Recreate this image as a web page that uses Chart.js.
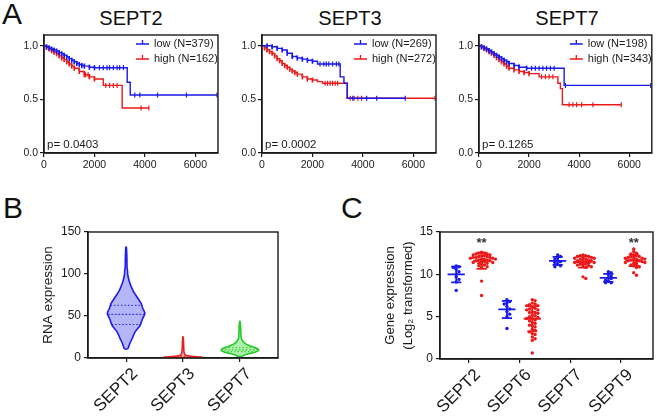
<!DOCTYPE html>
<html>
<head>
<meta charset="utf-8">
<script src="https://cdn.jsdelivr.net/npm/chart.js@4.4.1/dist/chart.umd.min.js"></script>
<style>
  body { margin: 0; background: #fff; width: 657px; height: 416px; position: relative; overflow: hidden;
         font-family: "Liberation Sans", Arial, sans-serif; color: #111; }
  canvas { position: absolute; left: 0; top: 0; }
  .lbl { position: absolute; white-space: nowrap; line-height: 1; }
  .panel { font-size: 30px; line-height: 30px; }
  .ttl { font-size: 20px; line-height: 20px; transform: translateX(-50%); }
</style>
</head>
<body>
<div class="lbl panel" style="left:2px;top:-1px">A</div>
<div class="lbl panel" style="left:3px;top:193px">B</div>
<div class="lbl panel" style="left:341px;top:193px">C</div>
<div class="lbl ttl" style="left:131px;top:8px">SEPT2</div>
<div class="lbl ttl" style="left:350px;top:8px">SEPT3</div>
<div class="lbl ttl" style="left:567px;top:8px">SEPT7</div>
<canvas id="km1" width="657" height="416"></canvas>
<canvas id="km2" width="657" height="416"></canvas>
<canvas id="km3" width="657" height="416"></canvas>
<canvas id="violin" width="657" height="416"></canvas>
<canvas id="expr" width="657" height="416"></canvas>
<script>
// ---- panel A: survival curves (days vs survival probability)
const kmXTicks = [0, 2000, 4000, 6000];
const kmYTicks = [0, 0.5, 1.0];

const sept2LowT  = [0, 100, 200, 300, 400, 500, 600, 700, 800, 900, 1000, 1100, 1200, 1300, 1400, 1500, 1600, 1800, 2000, 3300, 3420, 6860];
const sept2LowS  = [1.0, 0.99, 0.98, 0.97, 0.96, 0.95, 0.935, 0.925, 0.91, 0.895, 0.88, 0.865, 0.85, 0.835, 0.825, 0.815, 0.81, 0.80, 0.795, 0.66, 0.54, 0.54];
const sept2HighT = [0, 100, 200, 300, 400, 500, 600, 700, 800, 900, 1000, 1100, 1200, 1400, 1600, 1800, 2000, 2350, 3100, 4160];
const sept2HighS = [1.0, 0.985, 0.97, 0.955, 0.94, 0.925, 0.905, 0.885, 0.87, 0.85, 0.83, 0.81, 0.79, 0.76, 0.73, 0.71, 0.69, 0.63, 0.42, 0.42];
const sept2LowCensT  = [2200, 2350, 2500, 2600, 2750, 2900, 3000, 3150, 3600, 3800, 4500, 5650, 6860];
const sept2LowCensS  = [0.795, 0.795, 0.795, 0.795, 0.795, 0.795, 0.795, 0.795, 0.54, 0.54, 0.54, 0.54, 0.54];
const sept2HighCensT = [1650, 1750, 2450, 2600, 2750, 2900, 3850, 4160];
const sept2HighCensS = [0.73, 0.73, 0.63, 0.63, 0.63, 0.63, 0.42, 0.42];

const sept3LowT  = [0, 200, 400, 600, 800, 1000, 1200, 1400, 1600, 1800, 2000, 2200, 3100, 3250, 3380, 5680];
const sept3LowS  = [1.0, 1.0, 0.99, 0.975, 0.96, 0.93, 0.90, 0.885, 0.875, 0.865, 0.855, 0.83, 0.71, 0.65, 0.51, 0.51];
const sept3HighT = [0, 100, 200, 300, 400, 500, 600, 700, 800, 900, 1000, 1100, 1200, 1300, 1400, 1600, 1800, 2000, 2200, 2400, 3380, 6860];
const sept3HighS = [1.0, 0.98, 0.96, 0.945, 0.93, 0.905, 0.88, 0.86, 0.835, 0.815, 0.80, 0.78, 0.765, 0.75, 0.735, 0.71, 0.69, 0.68, 0.665, 0.65, 0.51, 0.51];
const sept3LowCensT  = [2300, 2450, 2550, 2650, 2800, 2950, 3050, 3600, 4150, 4550, 5680];
const sept3LowCensS  = [0.83, 0.83, 0.83, 0.83, 0.83, 0.83, 0.83, 0.51, 0.51, 0.51, 0.51];
const sept3HighCensT = [2500, 2600, 2700, 2800, 2900, 3000, 3500, 3650, 3800, 3950, 6860];
const sept3HighCensS = [0.65, 0.65, 0.65, 0.65, 0.65, 0.65, 0.51, 0.51, 0.51, 0.51, 0.51];

const sept7LowT  = [0, 100, 200, 300, 400, 500, 600, 700, 800, 900, 1000, 1100, 1200, 1400, 1600, 1900, 3400, 6860];
const sept7LowS  = [1.0, 0.99, 0.98, 0.97, 0.955, 0.94, 0.925, 0.91, 0.895, 0.88, 0.865, 0.85, 0.835, 0.815, 0.80, 0.79, 0.63, 0.63];
const sept7HighT = [0, 100, 200, 300, 400, 500, 600, 700, 800, 900, 1000, 1100, 1200, 1400, 1600, 1800, 2000, 2400, 3150, 3250, 3330, 5680];
const sept7HighS = [1.0, 0.99, 0.975, 0.96, 0.945, 0.93, 0.91, 0.89, 0.87, 0.85, 0.83, 0.81, 0.79, 0.775, 0.76, 0.75, 0.74, 0.71, 0.65, 0.60, 0.45, 0.45];
const sept7LowCensT  = [2100, 2250, 2400, 2550, 2700, 2850, 3000, 3450, 6860];
const sept7LowCensS  = [0.79, 0.79, 0.79, 0.79, 0.79, 0.79, 0.79, 0.63, 0.63];
const sept7HighCensT = [2500, 2650, 2800, 2950, 3600, 3750, 3900, 4100, 4550, 5680];
const sept7HighCensS = [0.71, 0.71, 0.71, 0.71, 0.45, 0.45, 0.45, 0.45, 0.45, 0.45];

const kmLowN  = [379, 269, 198];
const kmHighN = [162, 272, 343];
const kmPValues = ['0.0403', '0.0002', '0.1265'];

// ---- panel B: violin plot of RNA expression
const violinCats = ['SEPT2', 'SEPT3', 'SEPT7'];
const violinTicks = [0, 50, 100, 150];
const sept2Levels  = [10.3, 11, 13, 17, 23, 31, 39, 47, 53, 59, 65, 72.6, 80.5, 90.5, 100, 103, 108, 120, 132];
const sept2Density = [0, 0.08, 0.13, 0.19, 0.32, 0.48, 0.75, 0.88, 1.0, 0.89, 0.8, 0.58, 0.36, 0.18, 0.08, 0.08, 0.05, 0.04, 0.015];
const sept2Quart   = [39.9, 52, 62.7];
const sept3Levels  = [0, 0.4, 1, 2, 3, 5, 8, 12, 18, 25];
const sept3Density = [0.1, 0.85, 1.0, 0.45, 0.18, 0.08, 0.05, 0.04, 0.03, 0.01];
const sept3Quart   = [0.6, 1.5, 2.5];
const sept7Levels  = [1.5, 2.5, 3.8, 5.5, 6.9, 8.5, 9.6, 11, 12.5, 14, 15.5, 17.5, 19.4, 23, 30, 37, 43.7];
const sept7Density = [0, 0.16, 0.27, 0.55, 0.82, 0.96, 1.0, 0.93, 0.77, 0.6, 0.44, 0.27, 0.18, 0.08, 0.05, 0.04, 0.015];
const sept7Quart   = [7.5, 9.6, 12.3];

// ---- panel C: normal (blue) vs tumour (red) expression
const exprCats = ['SEPT2', 'SEPT6', 'SEPT7', 'SEPT9'];
const exprTicks = [0, 5, 10, 15];
const normalVals = [
  [11.0, 10.9, 10.8, 10.6, 10.3, 10.0, 9.7, 9.4, 9.1, 8.1],
  [7.0, 6.8, 6.6, 6.5, 6.2, 5.9, 5.6, 5.3, 5.0, 3.6],
  [12.3, 12.1, 12.0, 11.8, 11.6, 11.5, 11.4, 11.2, 11.0, 10.9],
  [10.3, 10.2, 10.0, 9.8, 9.6, 9.5, 9.3, 9.2, 9.0, 9.0]
];
const tumorVals = [
  [12.6, 12.5, 12.5, 12.4, 12.4, 12.3, 12.3, 12.2, 12.2, 12.1, 12.1, 12.0, 12.0, 12.0, 11.9, 11.9, 11.8, 11.8, 11.8, 11.7,
   11.7, 11.6, 11.6, 11.5, 11.5, 11.4, 11.4, 11.3, 11.3, 11.2, 11.1, 11.0, 10.9, 10.8, 9.2, 7.5],
  [7.0, 6.9, 6.6, 6.5, 6.4, 6.3, 6.3, 6.1, 6.0, 5.9, 5.8, 5.8, 5.6, 5.5, 5.5, 5.4, 5.2, 5.1, 5.0, 4.9,
   4.8, 4.8, 4.6, 4.5, 4.3, 4.2, 4.0, 3.9, 3.8, 3.5, 3.4, 3.2, 3.0, 2.9, 2.6, 2.4, 2.2, 0.7],
  [12.3, 12.2, 12.2, 12.1, 12.1, 12.0, 12.0, 11.9, 11.9, 11.8, 11.8, 11.7, 11.7, 11.6, 11.6, 11.5, 11.5, 11.4, 11.4, 11.3,
   11.3, 11.2, 11.2, 11.1, 11.0, 11.0, 10.9, 10.8, 9.7, 9.5],
  [13.0, 12.7, 12.5, 12.4, 12.3, 12.2, 12.1, 12.1, 12.0, 12.0, 11.9, 11.9, 11.8, 11.8, 11.7, 11.7, 11.6, 11.6, 11.5, 11.5,
   11.4, 11.4, 11.3, 11.2, 11.1, 11.0, 10.9, 10.8, 10.2, 9.9]
];
const exprSig = ['**', '', '', '**'];

// ---------------------------------------------------------------
const FONT = '"Liberation Sans", Arial, sans-serif';
const INK = '#1a1a1a';
const BLUE = 'rgb(25,25,235)';
const RED = 'rgb(235,25,25)';

Chart.defaults.font.family = FONT;
Chart.defaults.color = INK;
Chart.defaults.animation = false;
Chart.defaults.responsive = false;
Chart.defaults.plugins.legend.display = false;
Chart.defaults.plugins.tooltip.enabled = false;

// box = [left, top, right, bottom] of the plot area; yw / xh = room for the axes
function padFor(box, yw, xh) {
  return { left: box[0] - yw, top: box[1], right: 657 - box[2], bottom: 416 - box[3] - xh };
}

function axis(min, max, ticks, size, fit, extra) {
  return Object.assign({
    type: 'linear', min: min, max: max,
    afterBuildTicks: s => { s.ticks = ticks.map(v => ({ value: v })); },
    afterFit: fit,
    grid: { display: true, drawOnChartArea: false, drawTicks: true, tickLength: 4, color: INK, lineWidth: 1.2 },
    border: { display: true, color: INK, width: 1.4 },
    ticks: { color: INK, font: { size: size }, padding: 2, callback: v => String(v) }
  }, extra || {});
}

const frame = {
  id: 'frame',
  afterDraw(c) {
    const a = c.chartArea, x = c.ctx;
    x.save();
    x.strokeStyle = INK;
    x.lineWidth = 1.4;
    x.strokeRect(a.left, a.top, a.right - a.left, a.bottom - a.top);
    x.restore();
  }
};

const kmDeco = {
  id: 'kmDeco',
  afterDraw(c, args, o) {
    const a = c.chartArea, x = c.ctx;
    x.save();
    x.font = '11px ' + FONT;
    x.textBaseline = 'middle';
    o.items.forEach((it, i) => {
      const y = a.top + 9 + i * 15;
      x.strokeStyle = it.color;
      x.lineWidth = 1.3;
      x.beginPath();
      x.moveTo(a.right - 82, y); x.lineTo(a.right - 69, y);
      x.moveTo(a.right - 75.5, y); x.lineTo(a.right - 75.5, y - 4);
      x.stroke();
      x.fillStyle = INK;
      x.fillText(it.text, a.right - 64, y);
    });
    x.font = '11.5px ' + FONT;
    x.textBaseline = 'alphabetic';
    x.fillStyle = INK;
    x.fillText('p= ' + o.p, a.left + 3, a.bottom - 5);
    x.restore();
  }
};

function pts(xs, ys) { return xs.map((v, i) => ({ x: v, y: ys[i] })); }

function kmChart(id, box, lowT, lowS, highT, highS, lowCT, lowCS, highCT, highCS, k) {
  const dense = ctx => (ctx.raw && ctx.raw.x > 0 && ctx.raw.x < 2100) ? 2.6 : 0;
  const curve = (data, color) => ({
    type: 'line', data: data, stepped: true, borderColor: color, borderWidth: 1.4,
    pointStyle: 'line', rotation: 90, pointRadius: dense, pointBorderColor: color, pointBorderWidth: 1.6
  });
  const cens = (data, color) => ({
    type: 'scatter', data: data, showLine: false, pointStyle: 'line', rotation: 90,
    pointRadius: 2.5, pointBorderColor: color, pointBorderWidth: 1.2
  });
  new Chart(document.getElementById(id), {
    type: 'scatter',
    data: {
      datasets: [
        curve(pts(lowT, lowS), BLUE),
        cens(pts(lowCT, lowCS), BLUE),
        curve(pts(highT, highS), RED),
        cens(pts(highCT, highCS), RED)
      ]
    },
    options: {
      layout: { padding: padFor(box, 40, 20) },
      scales: {
        x: axis(0, 6900, kmXTicks, 10.5, s => { s.height = 20; }),
        y: axis(0, 1.1, kmYTicks, 10.5, s => { s.width = 40; },
                { ticks: { color: INK, font: { size: 10.5 }, padding: 2, callback: v => v.toFixed(1) } })
      },
      plugins: {
        kmDeco: {
          items: [{ color: BLUE, text: 'low (N=' + kmLowN[k] + ')' }, { color: RED, text: 'high (N=' + kmHighN[k] + ')' }],
          p: kmPValues[k]
        }
      }
    },
    plugins: [frame, kmDeco]
  });
}

kmChart('km1', [44, 35, 218, 153], sept2LowT, sept2LowS, sept2HighT, sept2HighS,
        sept2LowCensT, sept2LowCensS, sept2HighCensT, sept2HighCensS, 0);
kmChart('km2', [262, 35, 436, 153], sept3LowT, sept3LowS, sept3HighT, sept3HighS,
        sept3LowCensT, sept3LowCensS, sept3HighCensT, sept3HighCensS, 1);
kmChart('km3', [479, 35, 652, 153], sept7LowT, sept7LowS, sept7HighT, sept7HighS,
        sept7LowCensT, sept7LowCensS, sept7HighCensT, sept7HighCensS, 2);

// ---- violin
const VW = 0.33; // half width of the widest part, in category units

function densAt(levels, dens, v) {
  for (let i = 1; i < levels.length; i++) {
    if (v <= levels[i]) {
      const f = (v - levels[i - 1]) / (levels[i] - levels[i - 1]);
      return dens[i - 1] + f * (dens[i] - dens[i - 1]);
    }
  }
  return dens[dens.length - 1];
}

function violinSets(ci, levels, dens, quart, stroke, fillCol) {
  const right = levels.map((y, i) => ({ x: ci + dens[i] * VW, y: y }));
  const left = levels.map((y, i) => ({ x: ci - dens[i] * VW, y: y })).reverse();
  const sets = [{
    data: right.concat(left, [right[0]]), showLine: true, tension: 0.3, fill: 'shape',
    backgroundColor: fillCol, borderColor: stroke, borderWidth: 1.6, pointRadius: 0, order: 2
  }];
  quart.forEach((q, i) => {
    const w = densAt(levels, dens, q) * VW;
    sets.push({
      data: [{ x: ci - w, y: q }, { x: ci + w, y: q }], showLine: true, borderColor: stroke,
      borderWidth: 1, borderDash: i === 1 ? [2, 1.5] : [1.5, 2], pointRadius: 0, order: 1
    });
  });
  return sets;
}

const catTicks = (cats) => ({
  color: INK, font: { size: 17 }, padding: 2, minRotation: 45, maxRotation: 45,
  labelOffset: 9, autoSkip: false, callback: v => cats[v]
});

new Chart(document.getElementById('violin'), {
  type: 'scatter',
  data: {
    datasets: [].concat(
      violinSets(0, sept2Levels, sept2Density, sept2Quart, 'rgb(30,30,230)', 'rgba(120,120,245,0.55)'),
      violinSets(1, sept3Levels, sept3Density, sept3Quart, 'rgb(235,30,30)', 'rgba(245,120,120,0.5)'),
      violinSets(2, sept7Levels, sept7Density, sept7Quart, 'rgb(40,200,40)', 'rgba(120,235,120,0.6)')
    )
  },
  options: {
    layout: { padding: padFor([88, 232, 278, 358], 48, 58) },
    scales: {
      x: axis(-0.67, 2.67, [0, 1, 2], 17, s => { s.height = 58; }, { ticks: catTicks(violinCats) }),
      y: axis(0, 150, violinTicks, 12, s => { s.width = 48; }, {
        ticks: { color: INK, font: { size: 12 }, padding: 3 },
        title: { display: true, text: 'RNA expression', color: INK, font: { size: 13.5 }, padding: { top: 0, bottom: 0 } }
      })
    }
  },
  plugins: [frame]
});

// ---- expression dot plot
function swarm(vals, center) {
  const placed = [];
  const slots = [0, 1, -1, 2, -2, 3, -3, 4, -4, 5, -5];
  return vals.map(v => {
    for (const s of slots) {
      const x = center + s * 0.055;
      if (!placed.some(p => Math.abs(p.x - x) < 0.05 && Math.abs(p.y - v) < 0.3)) {
        placed.push({ x: x, y: v });
        return { x: x, y: v };
      }
    }
    placed.push({ x: center, y: v });
    return { x: center, y: v };
  });
}

const exprSets = [];
exprCats.forEach((c, i) => {
  exprSets.push({ data: swarm(normalVals[i], i - 0.25), values: normalVals[i], center: i - 0.25,
                  backgroundColor: BLUE, borderColor: BLUE, pointRadius: 1.7, pointBorderWidth: 0 });
  exprSets.push({ data: swarm(tumorVals[i], i + 0.25), values: tumorVals[i], center: i + 0.25, sig: exprSig[i],
                  backgroundColor: RED, borderColor: RED, pointRadius: 1.7, pointBorderWidth: 0 });
});

const meanSd = {
  id: 'meanSd',
  afterDatasetsDraw(c) {
    const xs = c.scales.x, ys = c.scales.y, ctx = c.ctx;
    ctx.save();
    c.data.datasets.forEach(ds => {
      const v = ds.values;
      const m = v.reduce((a, b) => a + b, 0) / v.length;
      const sd = Math.sqrt(v.reduce((a, b) => a + (b - m) * (b - m), 0) / (v.length - 1));
      const seg = (x0, y0, x1, y1) => {
        ctx.moveTo(xs.getPixelForValue(x0), ys.getPixelForValue(y0));
        ctx.lineTo(xs.getPixelForValue(x1), ys.getPixelForValue(y1));
      };
      ctx.strokeStyle = ds.borderColor;
      ctx.lineWidth = 1.8;
      ctx.beginPath();
      seg(ds.center - 0.17, m, ds.center + 0.17, m);
      seg(ds.center, m - sd, ds.center, m + sd);
      seg(ds.center - 0.1, m + sd, ds.center + 0.1, m + sd);
      seg(ds.center - 0.1, m - sd, ds.center + 0.1, m - sd);
      ctx.stroke();
      if (ds.sig) {
        ctx.fillStyle = '#333';
        ctx.font = 'bold 13px ' + FONT;
        ctx.textAlign = 'center';
        ctx.textBaseline = 'middle';
        ctx.fillText(ds.sig, xs.getPixelForValue(ds.center), ys.getPixelForValue(13.7));
      }
    });
    ctx.restore();
  }
};

new Chart(document.getElementById('expr'), {
  type: 'scatter',
  data: { datasets: exprSets },
  options: {
    layout: { padding: padFor([440, 232, 655, 359], 59, 57) },
    scales: {
      x: axis(-0.57, 3.63, [0, 1, 2, 3], 17, s => { s.height = 57; }, { ticks: catTicks(exprCats) }),
      y: axis(0, 15, exprTicks, 12, s => { s.width = 59; }, {
        ticks: { color: INK, font: { size: 12 }, padding: 3 },
        title: { display: true, text: ['Gene expression', '(Log\u2082 transformed)'], color: INK,
                 font: { size: 13, lineHeight: 1.4 }, padding: { top: 0, bottom: 0 } }
      })
    }
  },
  plugins: [frame, meanSd]
});
</script>
</body>
</html>
